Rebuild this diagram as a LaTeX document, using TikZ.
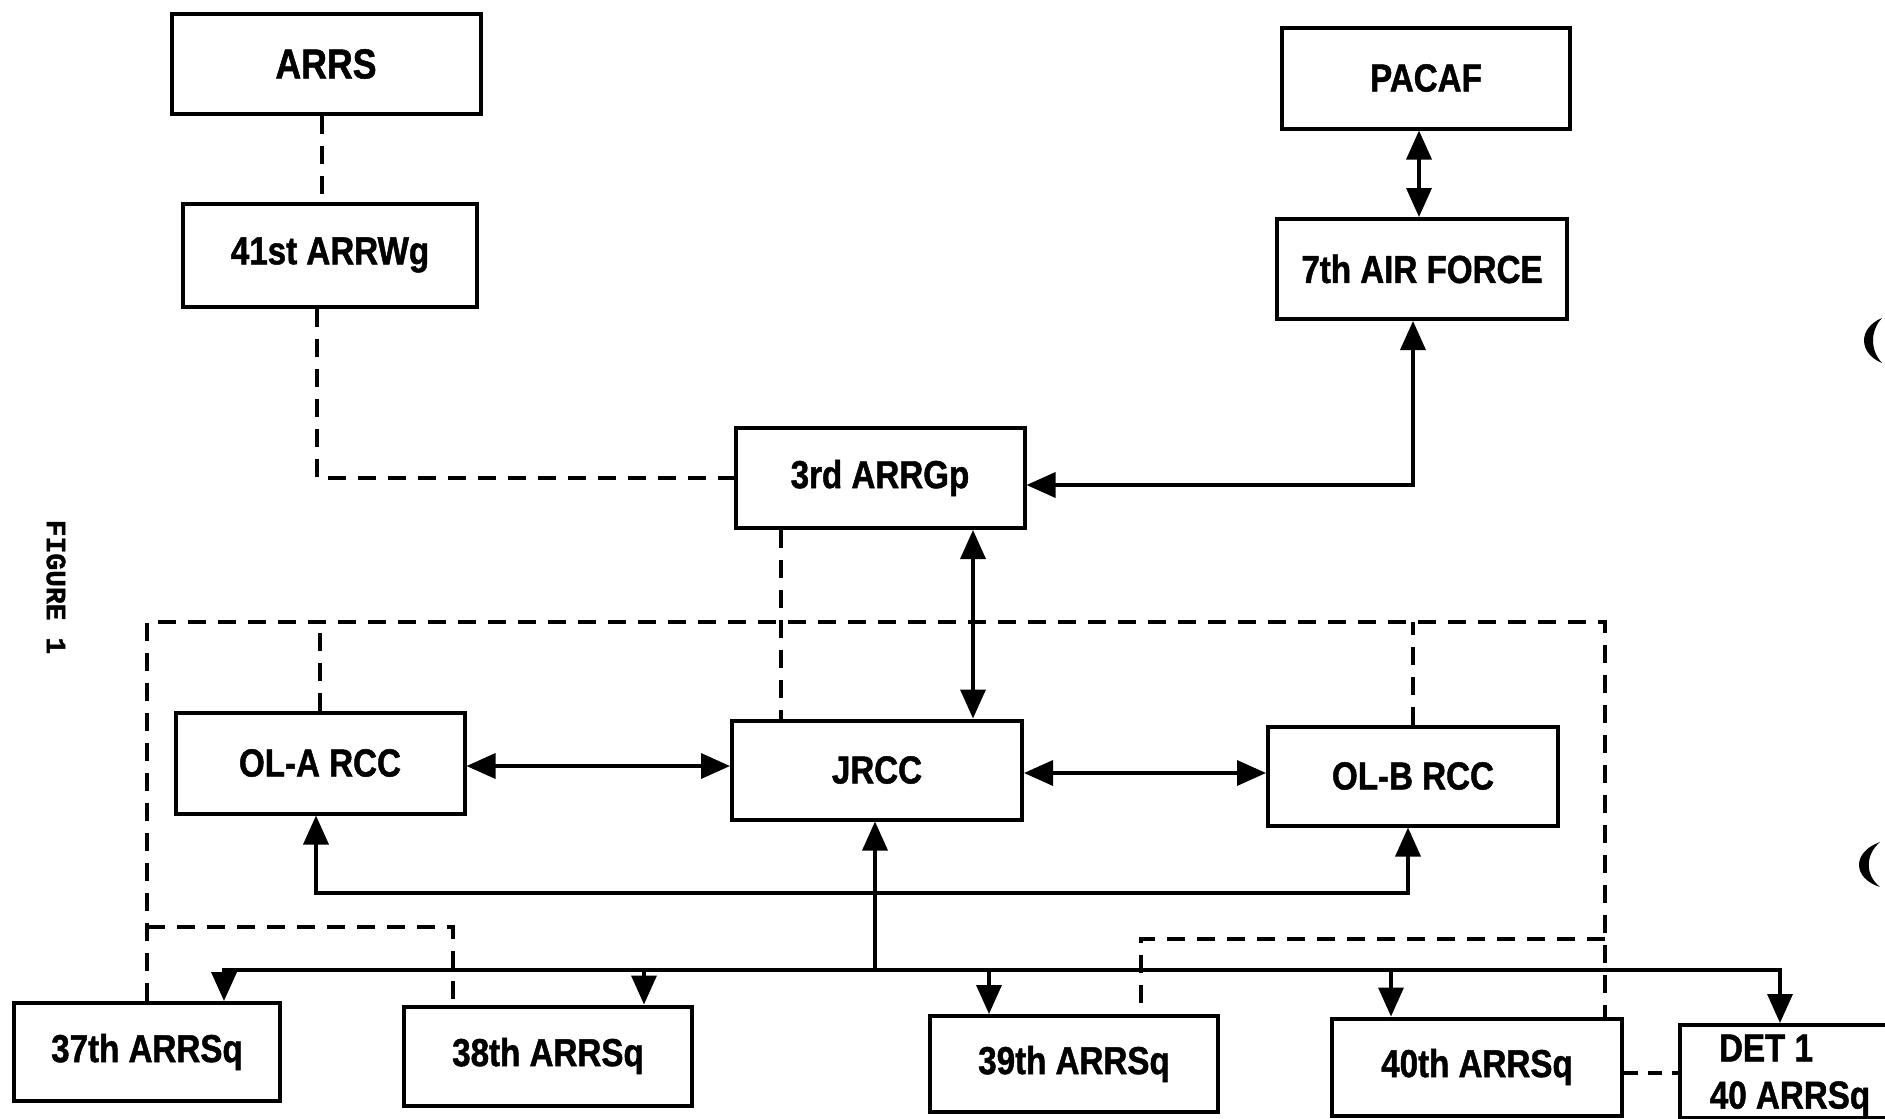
\documentclass[tikz,border=0pt]{standalone}
\usepackage{fontspec}
\usetikzlibrary{arrows.meta}
\newfontfamily\lbl{Liberation Sans}[FakeStretch=0.85, BoldFeatures={FakeBold=1.2}]
\newfontfamily\figfont{Liberation Mono}[BoldFeatures={FakeBold=1.5}]
\begin{document}
\begin{tikzpicture}[x=1pt,y=-1pt,
  >={Triangle[length=29pt,width=25pt]},
  box/.style={draw, line width=4pt, inner sep=0pt, font=\lbl\bfseries\fontsize{39}{41}\selectfont},
  lbltext/.style={inner sep=0pt, font=\lbl\bfseries\fontsize{39}{41}\selectfont},
  ln/.style={line width=3.5pt},
  dsh/.style={line width=3.5pt, dash pattern=on 18pt off 12pt}]
\useasboundingbox (0,0) rectangle (1885,1119);
\clip (0,0) rectangle (1885,1119);
\fill[white] (0,0) rectangle (1885,1119);

% boxes
\node[box, minimum width=309, minimum height=100, font=\lbl\bfseries\fontsize{42}{44}\selectfont] (arrs) at (326,64) {ARRS};
\node[box, minimum width=294, minimum height=103] (wg41) at (330,255) {41st ARRWg};
\node[box, minimum width=288, minimum height=101] (pacaf) at (1426,78) {\raisebox{-6pt}{PACAF}};
\node[box, minimum width=290, minimum height=100] (af7) at (1422,269) {7th AIR FORCE};
\node[box, minimum width=289, minimum height=100] (gp3) at (880,478) {3rd ARRGp};
\node[box, minimum width=289, minimum height=101] (ola) at (320,763) {OL-A RCC};
\node[box, minimum width=290, minimum height=99] (jrcc) at (877,770) {JRCC};
\node[box, minimum width=290, minimum height=99] (olb) at (1413,776) {OL-B RCC};
\node[box, minimum width=266, minimum height=98] (sq37) at (147,1052) {37th ARRSq};
\node[box, minimum width=288, minimum height=99] (sq38) at (548,1056) {38th ARRSq};
\node[box, minimum width=288, minimum height=96] (sq39) at (1074,1064) {39th ARRSq};
\node[box, minimum width=290, minimum height=97] (sq40) at (1477,1067) {40th ARRSq};
\node[box, minimum width=282, minimum height=93, anchor=north west] (det1) at (1678,1023) {};
\node[lbltext] (det1a) at (1766,1048) {DET 1};
\node[lbltext] (det1b) at (1790,1099) {40 ARRSq};

% figure caption
\node[rotate=-90, inner sep=0pt, font=\figfont\bfseries\fontsize{28}{30}\selectfont] (fig) at (56,587) {FIGURE 1};

% top connectors
\coordinate (c1) at ([xshift=-4pt]arrs.south);
\draw[dsh] (c1) -- (c1 |- wg41.north);
\coordinate (c2) at ([xshift=-13pt]wg41.south);
\draw[dsh] (c2) |- (gp3.west);
\coordinate (c3) at ([xshift=-7pt]pacaf.south);
\draw[ln,<->] (c3) -- (c3 |- af7.north);
\coordinate (c4) at ([yshift=-7pt]gp3.east);
\coordinate (c5) at ([xshift=-9pt]af7.south);
\draw[ln,<->] (c4) -| (c5);
\coordinate (c6) at ([xshift=93pt]gp3.south);
\draw[ln,<->] (c6) -- (c6 |- jrcc.north);
\coordinate (c7) at ([xshift=-99pt]gp3.south);
\draw[dsh] (c7) -- (c7 |- jrcc.north);

% dashed loop
\coordinate (tl) at (147,622);
\coordinate (tr) at (1605,622);
\draw[dsh] (sq37.north) -- (tl) -- (tr) -- (tr |- sq40.north);
\draw[dsh] (ola.north) -- (ola.north |- tl);
\draw[dsh] (olb.north) -- (olb.north |- tr);
\coordinate (lb) at (147,927);
\coordinate (c8) at ([xshift=-95pt]sq38.north);
\draw[dsh] (lb) -| (c8);
\coordinate (rb) at (1605,939);
\coordinate (c9) at ([xshift=67pt]sq39.north);
\draw[dsh] (rb) -| (c9);
\coordinate (c13) at ([yshift=-6pt]sq40.east);
\draw[dsh, dash pattern=on 14pt off 10pt] (c13) -- (c13 -| det1.west);

% middle connectors
\coordinate (c10) at ([yshift=-3pt]ola.east);
\draw[ln,<->] (c10) -- (c10 -| jrcc.west);
\coordinate (c11) at ([yshift=-3pt]jrcc.east);
\draw[ln,<->] (c11) -- (c11 -| olb.west);
\coordinate (lo) at (316,893);
\coordinate (c12) at ([xshift=-5pt]olb.south);
\draw[ln,<->] (ola.south -| lo) -- (lo) -| (c12);

% bus
\coordinate (bus) at (875,970);
\draw[ln,->] (bus) -- (bus |- jrcc.south);
\draw[ln,->] (bus) -| ([xshift=77pt]sq37.north);
\draw[ln,->] (bus) -| ([xshift=96pt]sq38.north);
\draw[ln,->] (bus) -| ([xshift=-85pt]sq39.north);
\draw[ln,->] (bus) -| ([xshift=-86pt]sq40.north);
\draw[ln,->] (bus) -| ([xshift=-41pt]det1.north);

% punch-hole marks
\fill (1882,318) .. controls (1858,328) and (1858,353) .. (1882,363) .. controls (1870,350) and (1870,331) .. (1882,318) -- cycle;
\fill (1880,842) .. controls (1852,852) and (1852,878) .. (1880,887) .. controls (1865,875) and (1865,855) .. (1880,842) -- cycle;
\end{tikzpicture}
\end{document}
